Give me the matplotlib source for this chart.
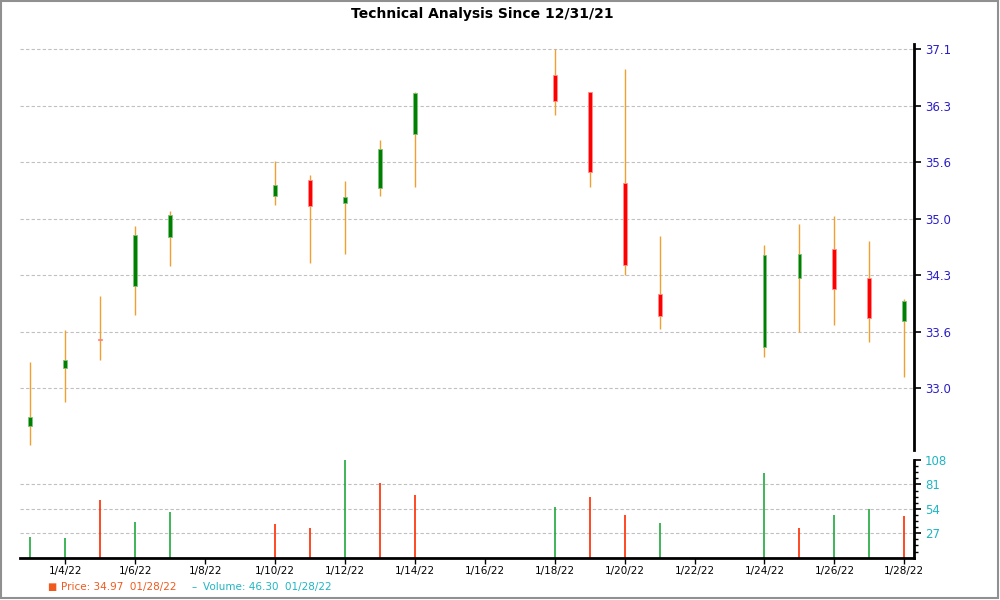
import numpy as np
import pandas as pd
import matplotlib
matplotlib.use("Agg")
import matplotlib.pyplot as plt
import matplotlib.dates as mdates
from matplotlib.patches import Rectangle

# daily bars
dates = ["2022-01-03", "2022-01-04", "2022-01-05", "2022-01-06", "2022-01-07",
         "2022-01-10", "2022-01-11", "2022-01-12", "2022-01-13", "2022-01-14",
         "2022-01-18", "2022-01-19", "2022-01-20", "2022-01-21",
         "2022-01-24", "2022-01-25", "2022-01-26", "2022-01-27", "2022-01-28"]
opens = [32.55, 33.25, 33.60, 34.24, 34.83, 35.33, 35.52, 35.24, 35.42, 36.08,
         36.79, 36.58, 35.48, 34.14, 33.50, 34.34, 34.68, 34.33, 33.82]
highs = [33.32, 33.71, 34.12, 34.96, 35.14, 35.75, 35.58, 35.51, 36.00, 36.58,
         37.10, 36.58, 36.86, 34.84, 34.73, 34.99, 35.08, 34.78, 34.08]
lows = [32.31, 32.83, 33.34, 33.89, 34.48, 35.22, 34.52, 34.63, 35.33, 35.43,
        36.31, 35.44, 34.37, 33.72, 33.38, 33.68, 33.76, 33.56, 33.14]
closes = [32.65, 33.34, 33.58, 34.85, 35.10, 35.46, 35.21, 35.31, 35.89, 36.57,
          36.48, 35.62, 34.49, 33.88, 34.61, 34.62, 34.20, 33.85, 34.05]
volumes = [22.9, 21.5, 63.8, 39.5, 50.6, 37.3, 32.9, 108.0, 82.7, 69.4,
           56.1, 67.2, 47.2, 38.4, 93.7, 32.9, 47.2, 53.9, 46.3]
volume_up = [True, True, False, True, True, False, False, True, False, False,
             True, False, False, True, True, False, True, True, False]

price_ticks = np.linspace(33.0, 37.1, 7)
price_labels = ["33.0", "33.6", "34.3", "35.0", "35.6", "36.3", "37.1"]
volume_ticks = [27, 54, 81, 108]
date_ticks = pd.date_range("2022-01-04", "2022-01-28", freq="2D")

title = "Technical Analysis Since 12/31/21"
legend_price = "Price: 34.97  01/28/22"
legend_volume = "Volume: 46.30  01/28/22"

GREEN = "#008000"
RED = "#ff0000"
WICK = "#f0a030"
VOL_GREEN = "#1fa83c"
VOL_RED = "#ff2a00"
PRICE_TXT = "#2a1fc8"
VOL_TXT = "#1fb5c4"
GRID = "#c0c0c0"

x = mdates.date2num(pd.to_datetime(dates))
xlo = mdates.date2num(pd.Timestamp("2022-01-02")) + 0.706
xhi = mdates.date2num(pd.Timestamp("2022-01-28")) + 0.277

fig = plt.figure(figsize=(10, 6), dpi=100)
ax = fig.add_axes([0.02, 0.25, 0.894, 0.6767])
axv = fig.add_axes([0.02, 0.0705, 0.894, 0.1628])

# price panel
o = np.array(opens)
c = np.array(closes)
up = c >= o
ax.vlines(x, lows, highs, color=WICK, lw=1.0, zorder=2)
body_w = 0.11
ax.bar(x[up], (c - o)[up], bottom=o[up], width=body_w, color=GREEN,
       edgecolor="#80c080", lw=0.6, zorder=3)
dn = ~up
ax.bar(x[dn], (o - c)[dn], bottom=c[dn], width=body_w, color=RED,
       edgecolor="#ff9090", lw=0.6, zorder=3)
ax.set_ylim(32.254, 37.164)
ax.set_xlim(xlo, xhi)
ax.yaxis.tick_right()
ax.set_yticks(price_ticks)
ax.set_yticklabels(price_labels)
ax.tick_params(axis="y", colors="black", labelcolor=PRICE_TXT, labelsize=8.5,
               length=5, width=1.2, pad=3)
ax.set_xticks([])
ax.grid(axis="y", color=GRID, ls=(0, (3, 2)), lw=0.8)
for s in ["top", "left", "bottom"]:
    ax.spines[s].set_visible(False)
ax.spines["right"].set_linewidth(2)

# volume panel
vcols = [VOL_GREEN if u else VOL_RED for u in volume_up]
axv.vlines(x, 0, volumes, colors=vcols, lw=1.2, zorder=2)
axv.set_ylim(0, 108)
axv.set_xlim(xlo, xhi)
axv.yaxis.tick_right()
axv.set_yticks(volume_ticks)
axv.set_yticks(np.arange(6.75, 108, 6.75), minor=True)
axv.tick_params(axis="y", which="major", labelcolor=VOL_TXT, labelsize=8.5,
                length=5, width=1.2, pad=3)
axv.tick_params(axis="y", which="minor", length=3, width=1)
axv.set_xticks(mdates.date2num(date_ticks))
axv.set_xticklabels([f"{d.month}/{d.day}/22" for d in date_ticks])
axv.tick_params(axis="x", labelsize=7.5, length=4, width=1, pad=2)
axv.grid(axis="y", color=GRID, ls=(0, (3, 2)), lw=0.8)
axv.get_ygridlines()[-1].set_visible(False)
for s in ["top", "left"]:
    axv.spines[s].set_visible(False)
axv.spines["right"].set_linewidth(2)
axv.spines["bottom"].set_linewidth(2)

fig.text(0.482, 0.988, title, ha="center", va="top", fontsize=10,
         fontweight="bold")

# legend strip
fig.text(0.047, 0.022, "\u25a0", color="#f05a1e", fontsize=7, va="center")
fig.text(0.061, 0.022, legend_price, color="#f05a1e", fontsize=7.5, va="center")
fig.text(0.191, 0.022, "\u2013", color=VOL_TXT, fontsize=7.5, va="center")
fig.text(0.203, 0.022, legend_volume, color=VOL_TXT, fontsize=7.5, va="center")

fig.patches.append(Rectangle((0.001, 0.003), 0.997, 0.996, transform=fig.transFigure,
                             fill=False, edgecolor="#909090", lw=1.5))

fig.savefig("out.png", dpi=100)
